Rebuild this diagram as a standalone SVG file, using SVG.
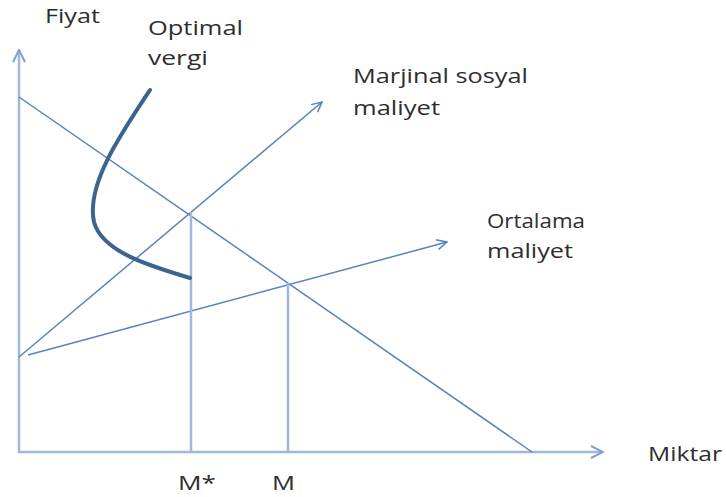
<svg xmlns="http://www.w3.org/2000/svg" width="727" height="497" viewBox="0 0 727 497">
<style>
.ax{stroke:#9fb9dc;stroke-width:2.5;fill:none}
.ln{stroke:#5682bd;stroke-width:1.5;fill:none}
.cv{stroke:#3d6491;stroke-width:4;fill:none;stroke-linecap:round}
text{font-family:"Open Sans","Liberation Sans",sans-serif;font-size:20px;fill:#2e2e2e}
</style>
<defs>
<marker id="ah" viewBox="0 0 12 12" refX="11" refY="6" markerWidth="12" markerHeight="12" markerUnits="userSpaceOnUse" orient="auto">
<path d="M1,1 L11,6 L1,11" fill="none" stroke="#5682bd" stroke-width="1.5"/>
</marker>
<marker id="ah2" viewBox="0 0 14 14" refX="13" refY="7" markerWidth="14" markerHeight="14" markerUnits="userSpaceOnUse" orient="auto">
<path d="M1,1 L13,7 L1,13" fill="none" stroke="#7fa0cf" stroke-width="2"/>
</marker>
</defs>
<rect width="727" height="497" fill="#fff"/>
<g id="connectors">
<line id="y-axis" class="ax" x1="19" y1="453" x2="19" y2="50" marker-end="url(#ah2)"/>
<line id="x-axis" class="ax" x1="18" y1="452" x2="603" y2="452" marker-end="url(#ah2)"/>
<line id="demand" class="ln" x1="19" y1="97" x2="532" y2="452"/>
<line id="msc" class="ln" x1="19" y1="357" x2="322" y2="102" marker-end="url(#ah)"/>
<line id="ac" class="ln" x1="28" y1="355" x2="447" y2="242" marker-end="url(#ah)"/>
<line id="v-mstar" class="ax" x1="191" y1="212" x2="191" y2="452"/>
<line id="v-m" class="ax" x1="288" y1="283" x2="288" y2="452"/>
<path id="optimal-tax" class="cv" d="M150,90 C120,135 86,185 94,222 C102,252 150,266 190,278"/>
</g>
<g id="label-fiyat"><text x="45" y="23" textLength="55" lengthAdjust="spacingAndGlyphs">Fiyat</text></g>
<g id="label-optimal"><text x="148" y="35" textLength="95" lengthAdjust="spacingAndGlyphs">Optimal</text><text x="148" y="65" textLength="60" lengthAdjust="spacingAndGlyphs">vergi</text></g>
<g id="label-msc"><text x="353" y="83" textLength="175" lengthAdjust="spacingAndGlyphs">Marjinal sosyal</text><text x="353" y="115" textLength="87" lengthAdjust="spacingAndGlyphs">maliyet</text></g>
<g id="label-ac"><text x="487" y="228" textLength="98" lengthAdjust="spacingAndGlyphs">Ortalama</text><text x="487" y="258" textLength="86" lengthAdjust="spacingAndGlyphs">maliyet</text></g>
<g id="label-miktar"><text x="648" y="461" textLength="74" lengthAdjust="spacingAndGlyphs">Miktar</text></g>
<g id="label-mstar"><text x="178" y="490" textLength="38" lengthAdjust="spacingAndGlyphs">M*</text></g>
<g id="label-m"><text x="272" y="490" textLength="23" lengthAdjust="spacingAndGlyphs">M</text></g>
</svg>
